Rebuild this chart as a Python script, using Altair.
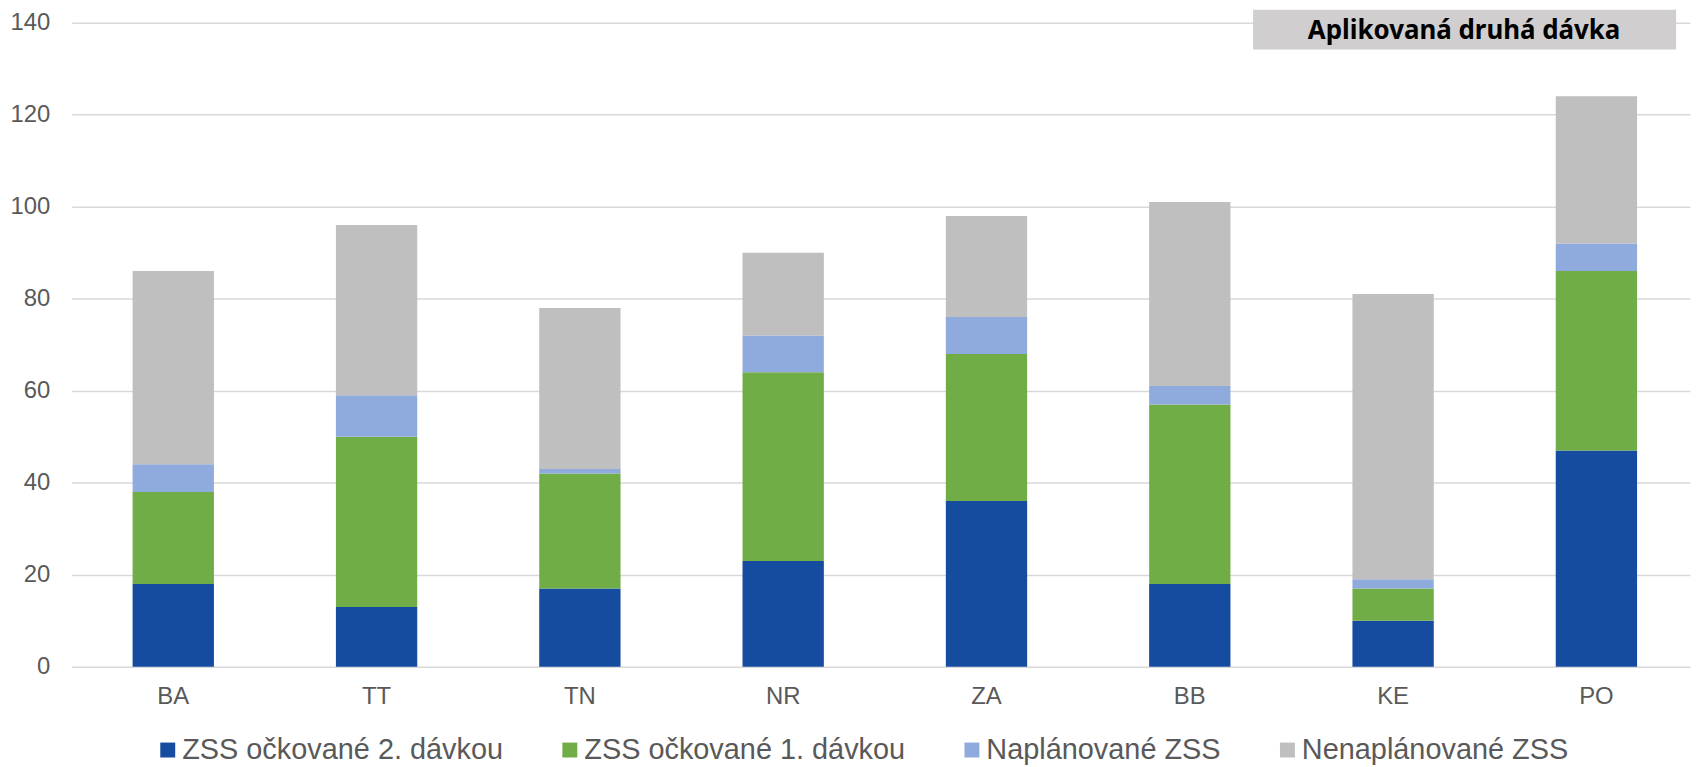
import altair as alt
import pandas as pd

regiony = ["BA", "TT", "TN", "NR", "ZA", "BB", "KE", "PO"]
ockovane_2 = [18, 13, 17, 23, 36, 18, 10, 47]
ockovane_1 = [20, 37, 25, 41, 32, 39, 7, 39]
naplanovane = [6, 9, 1, 8, 8, 4, 2, 6]
nenaplanovane = [42, 37, 35, 18, 22, 40, 62, 32]

serie = ["ZSS očkované 2. dávkou", "ZSS očkované 1. dávkou", "Naplánované ZSS", "Nenaplánované ZSS"]
farby = ["#154ca0", "#70ad47", "#8faadc", "#bfbfbf"]
y_ticks = [0, 20, 40, 60, 80, 100, 120, 140]
nadpis = "Aplikovaná druhá dávka"

rows = []
for s_i, (name, vals) in enumerate(zip(serie, [ockovane_2, ockovane_1, naplanovane, nenaplanovane])):
    for r, v in zip(regiony, vals):
        rows.append({"region": r, "serie": name, "hodnota": v, "poradie": s_i})
df = pd.DataFrame(rows)

FONT = "Liberation Sans"
W, H = 1626, 647

bars = alt.Chart(df).mark_bar(xOffset=4).encode(
    x=alt.X("region:N", sort=regiony,
            scale=alt.Scale(paddingInner=0.6, paddingOuter=0.28),
            axis=alt.Axis(title=None, labelAngle=0, domain=False, ticks=False,
                          labelPadding=18, labelFontSize=24, labelFont=FONT,
                          labelColor="#595959", grid=False, labelOffset=4)),
    y=alt.Y("hodnota:Q", stack="zero",
            scale=alt.Scale(domain=[0, 140], nice=False),
            axis=alt.Axis(title=None, values=y_ticks, domain=False, ticks=False,
                          labelPadding=22, labelFontSize=24, labelFont=FONT,
                          labelColor="#595959", grid=True, gridColor="#d9d9d9",
                          gridWidth=1.5)),
    color=alt.Color("serie:N", sort=serie,
                    scale=alt.Scale(domain=serie, range=farby),
                    legend=alt.Legend(title=None, orient="none", legendX=82, legendY=716,
                                      direction="horizontal", columns=4,
                                      symbolType="square", symbolSize=225,
                                      symbolStrokeWidth=0, labelFontSize=29,
                                      labelFont=FONT, labelColor="#595959",
                                      labelOffset=0, columnPadding=52,
                                      labelLimit=500, padding=0)),
    order=alt.Order("poradie:Q", sort="ascending"),
)

box_df = pd.DataFrame({"t": [nadpis]})
box = alt.Chart(box_df).mark_rect(color="#d0cece").encode(
    x=alt.value(1187), x2=alt.value(1612), y=alt.value(-13), y2=alt.value(27)
)
text = alt.Chart(box_df).mark_text(
    font="Noto Sans", fontWeight="bold", fontSize=26, color="#000000",
    align="center", baseline="alphabetic"
).encode(x=alt.value(1399), y=alt.value(16), text="t:N")

chart = alt.layer(bars, box, text).properties(
    width=W, height=H,
    autosize=alt.AutoSizeParams(type="none"),
    padding={"left": 64, "top": 13, "right": 3, "bottom": 99},
).configure_view(stroke=None)

chart.save("out.html", embed_options={"renderer": "svg", "actions": False})
